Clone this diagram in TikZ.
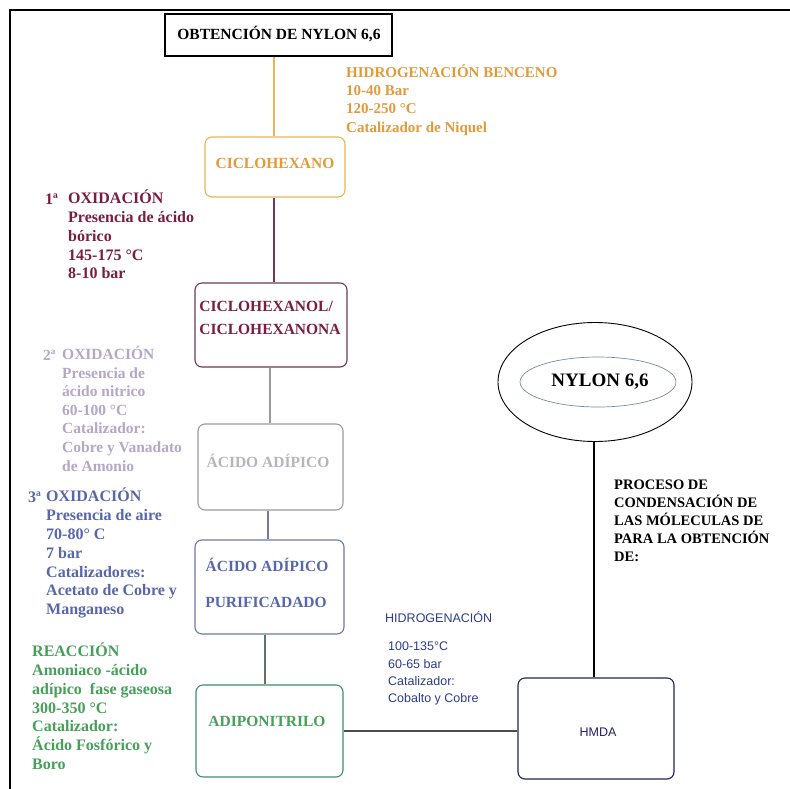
\documentclass[tikz,border=0pt]{standalone}
\usepackage{fontspec}
\setmainfont{Liberation Serif}
\setsansfont{Liberation Sans}
\usetikzlibrary{shapes.geometric}

\definecolor{orangeT}{HTML}{E39B3A}
\definecolor{orangeB}{HTML}{E8B45A}
\definecolor{maroonT}{HTML}{7A1E40}
\definecolor{maroonB}{HTML}{6E3A55}
\definecolor{lavT}{HTML}{B3A8C8}
\definecolor{grayT}{HTML}{B5B5BE}
\definecolor{grayB}{HTML}{9A9AA0}
\definecolor{blueT}{HTML}{5767AA}
\definecolor{blueB}{HTML}{6A78B0}
\definecolor{greenT}{HTML}{46A05A}
\definecolor{greenB}{HTML}{3E8E6E}
\definecolor{navyB}{HTML}{23235E}
\definecolor{navyT}{HTML}{2C3C8C}
\definecolor{ellB}{HTML}{7A8AA0}

\begin{document}
\begin{tikzpicture}[x=1pt,y=-1pt,
  stepbox/.style={draw=#1, rounded corners=7pt, line width=1.1pt, inner sep=0pt},
  link/.style={draw=#1, line width=1.2pt},
  serifB/.style={font=\bfseries\fontsize{#1}{#1}\selectfont, inner sep=0pt},
  block/.style 2 args={font=\bfseries\fontsize{#1}{#2}\selectfont, align=left, inner sep=0pt, anchor=north west}
]
\useasboundingbox (0,0) rectangle (790,789);
\fill[white] (0,0) rectangle (790,789);

% outer frame: top and left rules
\draw[line width=2.4pt] (790,10) -- (10,10) -- (10,789);

% title
\node[draw=black, line width=1.2pt, minimum width=227pt, minimum height=42pt, inner sep=0pt] (title) at (278.5,35) {};
\node[serifB=15.5] (titleT) at (279,34) {OBTENCIÓN DE NYLON 6,6};

% process boxes
\node[stepbox=orangeB, minimum width=140pt, minimum height=60pt] (cic) at (275,167) {};
\node[serifB=15.5, text=orangeT] (cicT) at (275,163) {CICLOHEXANO};

\node[stepbox=maroonB, minimum width=152pt, minimum height=84pt] (col) at (271,325) {};
\node[font=\bfseries\fontsize{15.5}{23}\selectfont, align=left, inner sep=0pt, text=maroonT] (colT) at (270,318) {CICLOHEXANOL/\\CICLOHEXANONA};

\node[stepbox=grayB, minimum width=145pt, minimum height=86pt] (adi) at (270.5,467) {};
\node[serifB=15.5, text=grayT] (adiT) at (268,461) {ÁCIDO ADÍPICO};

\node[stepbox=blueB, minimum width=149pt, minimum height=94pt] (pur) at (269.5,587) {};
\node[serifB=15.5, text=blueT] (purA) at (267,565) {ÁCIDO ADÍPICO};
\node[serifB=15.5, text=blueT] (purB) at (266,602) {PURIFICADADO};

\node[stepbox=greenB, minimum width=147pt, minimum height=92pt] (adn) at (269.5,731) {};
\node[serifB=15.5, text=greenT] (adnT) at (267,721) {ADIPONITRILO};

\node[stepbox=navyB, minimum width=156pt, minimum height=101pt] (hmda) at (596,728.5) {};
\node[font=\sffamily\fontsize{12.5}{12.5}\selectfont, inner sep=0pt, text=navyB] (hmdaT) at (598,732) {HMDA};

% product
\node[draw=black, line width=0.9pt, ellipse, minimum width=194pt, minimum height=119pt, inner sep=0pt] (outer) at (595,382) {};
\node[draw=ellB, line width=0.7pt, ellipse, minimum width=156pt, minimum height=50pt, inner sep=0pt] (inner) at (598,382) {};
\node[serifB=19] (nylon) at (600,382) {NYLON 6,6};

% connectors
\draw[link=orangeB] (cic.north -| 274,0) -- (title.south -| 274,0);
\draw[link=maroonB] (cic.south -| 274,0) -- (col.north -| 274,0);
\draw[link=grayB] (col.south -| 270,0) -- (adi.north -| 270,0);
\draw[link=blueB!70!gray] (adi.south -| 268,0) -- (pur.north -| 268,0);
\draw[link=greenB!40!black!70] (pur.south -| 265,0) -- (adn.north -| 265,0);
\draw[link=black!70] (adn.east |- 0,731) -- (hmda.west |- 0,731);
\draw[link=black] (hmda.north -| 594,0) -- (outer.south -| 594,0);

% condition notes
\node[block={15}{18.4}, text=orangeT] (hidro) at (346,64) {HIDROGENACIÓN BENCENO\\10-40 Bar\\120-250 °C\\Catalizador de Niquel};

\node[serifB=16, text=maroonT, anchor=west] (ox1n) at (45,199) {1ª};
\node[block={16}{18.7}, text=maroonT] (ox1) at (68,190) {OXIDACIÓN\\Presencia de ácido\\bórico\\145-175 °C\\8-10 bar};

\node[serifB=15.5, text=lavT, anchor=west] (ox2n) at (43,355) {2ª};
\node[block={15.5}{18.6}, text=lavT] (ox2) at (62,346) {OXIDACIÓN\\Presencia de\\ácido nitrico\\60-100 °C\\Catalizador:\\Cobre y Vanadato\\de Amonio};

\node[serifB=16, text=blueT, anchor=west] (ox3n) at (28,497) {3ª};
\node[block={16}{18.8}, text=blueT] (ox3) at (46,488) {OXIDACIÓN\\Presencia de aire\\70-80° C\\7 bar\\Catalizadores:\\Acetato de Cobre y\\Manganeso};

\node[block={16}{18.7}, text=greenT] (reac) at (32,643) {REACCIÓN\\Amoniaco -ácido\\adípico\ \ fase gaseosa\\300-350 °C\\Catalizador:\\Ácido Fosfórico y\\Boro};

\node[font=\sffamily\fontsize{12.5}{12.5}\selectfont, inner sep=0pt, anchor=west, text=navyT] (hidro2) at (385,617) {HIDROGENACIÓN};
\node[font=\sffamily\fontsize{12.5}{17.3}\selectfont, align=left, inner sep=0pt, anchor=north west, text=navyT] (hidro2b) at (388,642) {100-135°C\\60-65 bar\\Catalizador:\\Cobalto y Cobre};

\node[block={14.5}{18}] (proc) at (614,480) {PROCESO DE\\CONDENSACIÓN DE\\LAS MÓLECULAS DE\\PARA LA OBTENCIÓN\\DE:};
\end{tikzpicture}
\end{document}
